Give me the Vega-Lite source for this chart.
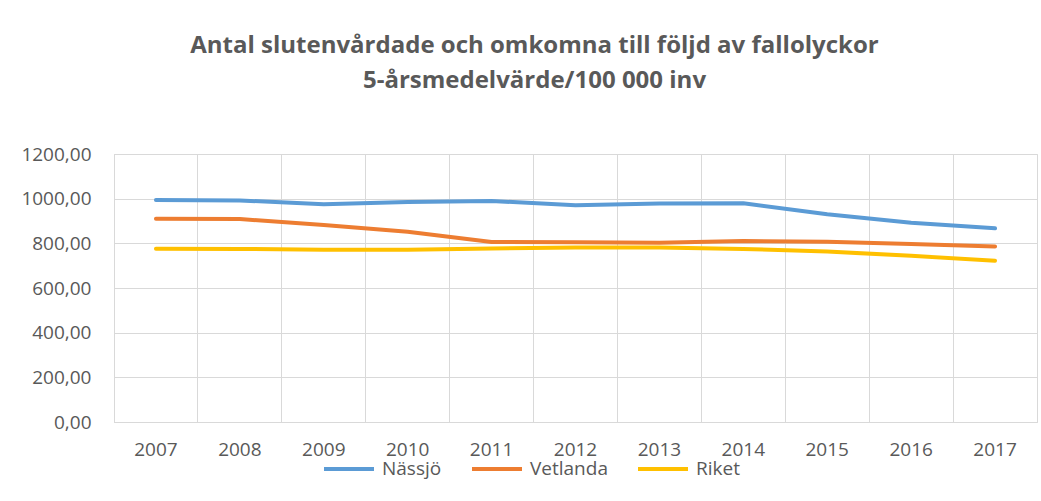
{
  "$schema": "https://vega.github.io/schema/vega-lite/v6.json",
  "autosize": "none",
  "width": 923,
  "height": 268,
  "padding": {"left": 114, "top": 154, "right": 4, "bottom": 79},
  "background": "white",
  "title": {
    "text": ["Antal slutenvårdade och omkomna till följd av fallolyckor", "5-årsmedelvärde/100 000 inv"],
    "anchor": "middle",
    "frame": "group",
    "dx": -41,
    "offset": 52,
    "font": "Open Sans",
    "fontSize": 24,
    "fontWeight": "bold",
    "color": "#595959",
    "lineHeight": 35
  },
  "config": {
    "view": {"stroke": "#D9D9D9", "strokeWidth": 1},
    "font": "Open Sans"
  },
  "data": {
    "values": [
      {"year": "2007", "serie": "Nässjö", "value": 994},
      {"year": "2008", "serie": "Nässjö", "value": 992},
      {"year": "2009", "serie": "Nässjö", "value": 975},
      {"year": "2010", "serie": "Nässjö", "value": 985},
      {"year": "2011", "serie": "Nässjö", "value": 990},
      {"year": "2012", "serie": "Nässjö", "value": 970},
      {"year": "2013", "serie": "Nässjö", "value": 978},
      {"year": "2014", "serie": "Nässjö", "value": 979},
      {"year": "2015", "serie": "Nässjö", "value": 930},
      {"year": "2016", "serie": "Nässjö", "value": 892},
      {"year": "2017", "serie": "Nässjö", "value": 867},
      {"year": "2007", "serie": "Vetlanda", "value": 910},
      {"year": "2008", "serie": "Vetlanda", "value": 909},
      {"year": "2009", "serie": "Vetlanda", "value": 882},
      {"year": "2010", "serie": "Vetlanda", "value": 852},
      {"year": "2011", "serie": "Vetlanda", "value": 806},
      {"year": "2012", "serie": "Vetlanda", "value": 805},
      {"year": "2013", "serie": "Vetlanda", "value": 803},
      {"year": "2014", "serie": "Vetlanda", "value": 810},
      {"year": "2015", "serie": "Vetlanda", "value": 807},
      {"year": "2016", "serie": "Vetlanda", "value": 797},
      {"year": "2017", "serie": "Vetlanda", "value": 786},
      {"year": "2007", "serie": "Riket", "value": 776},
      {"year": "2008", "serie": "Riket", "value": 775},
      {"year": "2009", "serie": "Riket", "value": 771},
      {"year": "2010", "serie": "Riket", "value": 771},
      {"year": "2011", "serie": "Riket", "value": 777},
      {"year": "2012", "serie": "Riket", "value": 781},
      {"year": "2013", "serie": "Riket", "value": 781},
      {"year": "2014", "serie": "Riket", "value": 775},
      {"year": "2015", "serie": "Riket", "value": 763},
      {"year": "2016", "serie": "Riket", "value": 744},
      {"year": "2017", "serie": "Riket", "value": 722}
    ]
  },
  "mark": {"type": "line", "strokeWidth": 4, "strokeCap": "round", "strokeJoin": "round"},
  "encoding": {
    "x": {
      "field": "year",
      "type": "ordinal",
      "scale": {"type": "band", "paddingInner": 0, "paddingOuter": 0},
      "axis": {
        "title": null,
        "labelAngle": 0,
        "labelFont": "Open Sans",
        "labelFontSize": 19,
        "labelColor": "#595959",
        "labelPadding": 18,
        "ticks": false,
        "domainColor": "#D9D9D9",
        "grid": true,
        "gridColor": "#D9D9D9",
        "bandPosition": 0
      }
    },
    "y": {
      "field": "value",
      "type": "quantitative",
      "scale": {"domain": [0, 1200], "nice": false},
      "axis": {
        "title": null,
        "values": [0, 200, 400, 600, 800, 1000, 1200],
        "labelExpr": "replace(format(datum.value, '.2f'), '.', ',')",
        "labelFont": "Open Sans",
        "labelFontSize": 19,
        "labelColor": "#595959",
        "labelPadding": 23,
        "ticks": false,
        "domainColor": "#D9D9D9",
        "gridColor": "#D9D9D9"
      }
    },
    "color": {
      "field": "serie",
      "type": "nominal",
      "sort": ["Nässjö", "Vetlanda", "Riket"],
      "scale": {"domain": ["Nässjö", "Vetlanda", "Riket"], "range": ["#5B9BD5", "#ED7D31", "#FFC000"]},
      "legend": {
        "title": null,
        "orient": "none",
        "direction": "horizontal",
        "legendX": 208,
        "legendY": 288,
        "symbolType": "stroke",
        "symbolSize": 2500,
        "symbolStrokeWidth": 4,
        "labelFont": "Open Sans",
        "labelFontSize": 19,
        "labelColor": "#595959",
        "labelOffset": 6,
        "columnPadding": 22
      }
    }
  }
}
